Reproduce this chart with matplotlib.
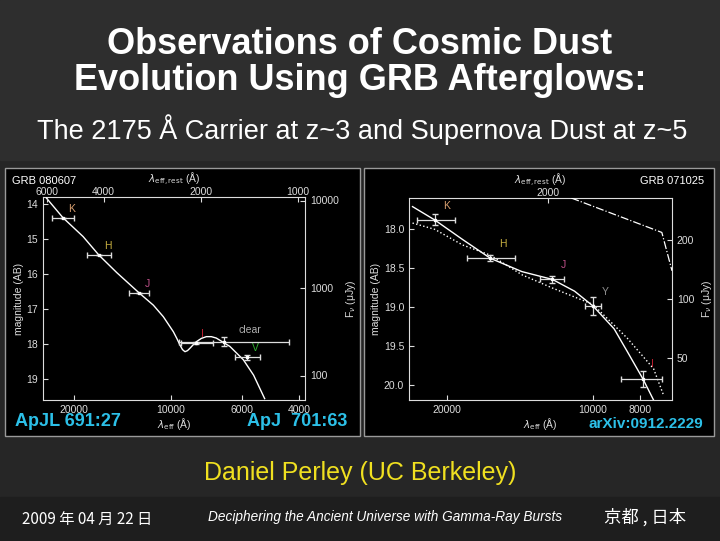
import numpy as np
import matplotlib
matplotlib.use("Agg")
import matplotlib.pyplot as plt
from matplotlib.patches import Rectangle
from matplotlib.ticker import FixedLocator, NullLocator

plt.rcParams["font.family"] = "Liberation Sans"

# --- GRB 080607 (left panel) ---
left_bands = ["K", "H", "J", "I", "clear", "V"]
left_colors = ["#d9a070", "#c8b040", "#c0508a", "#c02030", "#b0b0b0", "#30b030"]
left_lam = [21600, 16700, 12530, 8360, 6840, 5810]
left_lam_lo = [20000, 15300, 11700, 7400, 4300, 5300]
left_lam_hi = [23300, 18200, 13500, 9300, 9400, 6300]
left_mag = [14.40, 15.46, 16.54, 17.98, 17.93, 18.38]
left_magerr = [0.0, 0.0, 0.0, 0.03, 0.12, 0.07]
left_curve_lam = [24300, 21600, 18700, 16700, 14700, 12530, 11320, 10540, 9810, 9560, 9360,
                  9190, 9030, 8870, 8710, 8510, 8310, 8030, 7750, 7480, 7220, 6550, 5950,
                  5530, 5110]
left_curve_mag = [13.83, 14.39, 14.93, 15.46, 15.96, 16.54, 16.89, 17.22, 17.65, 17.85, 18.03,
                  18.16, 18.22, 18.19, 18.12, 18.02, 17.93, 17.84, 17.79, 17.79, 17.83, 18.07,
                  18.45, 18.89, 19.56]

# --- GRB 071025 (right panel) ---
right_bands = ["K", "H", "J", "Y", "I"]
right_colors = ["#d9a070", "#c8b040", "#c0508a", "#909090", "#c02030"]
right_lam = [21240, 16300, 12130, 10000, 7890]
right_lam_lo = [19300, 14500, 11500, 9650, 7200]
right_lam_hi = [23100, 18200, 12900, 10400, 8750]
right_mag = [17.89, 18.38, 18.65, 18.99, 19.92]
right_magerr = [0.07, 0.04, 0.04, 0.12, 0.10]
right_solid_lam = [23600, 21240, 18600, 16300, 14030, 12130, 10920, 10000, 9050, 8500, 7890, 7500]
right_solid_mag = [17.72, 17.89, 18.14, 18.38, 18.55, 18.65, 18.80, 18.99, 19.28, 19.57, 19.92, 20.19]
right_dot_lam = [23600, 21240, 18600, 16300, 14030, 12130, 10000, 8500, 7500, 7160]
right_dot_mag = [17.93, 18.01, 18.21, 18.34, 18.59, 18.76, 18.97, 19.40, 19.79, 20.12]
right_dd_lam = [11090, 7210, 6870]
right_dd_mag = [17.61, 18.05, 18.54]

W, H = 720, 541
fig = plt.figure(figsize=(7.2, 5.41), dpi=100)
fig.patch.set_facecolor("#262626")


def px_axes(x0, y0, x1, y1, **kw):
    return fig.add_axes([x0 / W, 1 - y1 / H, (x1 - x0) / W, (y1 - y0) / H], **kw)


def mag2fnu(m):
    return 10 ** ((23.9 - np.asarray(m, float)) / 2.5)


# slide frame and panel boxes
bg = px_axes(0, 0, W, H)
bg.set_xlim(0, W)
bg.set_ylim(H, 0)
bg.axis("off")
bg.add_patch(Rectangle((0, 0), W, 160, color="#2e2e2e", zorder=0))
bg.add_patch(Rectangle((0, 497), W, 44, color="#1e1e1e", zorder=0))
bg.add_patch(Rectangle((5, 168), 355, 268, facecolor="black", edgecolor="#9a9a9a", lw=1))
bg.add_patch(Rectangle((364, 168), 350, 268, facecolor="black", edgecolor="#9a9a9a", lw=1))

bg.text(360, 45, "Observations of Cosmic Dust", color="white", fontsize=26,
        fontweight="bold", ha="center", va="center")
bg.text(360, 81, "Evolution Using GRB Afterglows:", color="white", fontsize=26,
        fontweight="bold", ha="center", va="center")
bg.text(362, 130, "The 2175 Å Carrier at z~3 and Supernova Dust at z~5", color="white",
        fontsize=19.5, ha="center", va="center")
bg.text(360, 473, "Daniel Perley (UC Berkeley)", color="#f0e020", fontsize=18,
        ha="center", va="center")
bg.text(22, 519, "2009 年 04 月 22 日", color="white", fontsize=11,
        family="Noto Sans CJK JP", ha="left", va="center")
bg.text(385, 517, "Deciphering the Ancient Universe with Gamma-Ray Bursts", color="white",
        fontsize=9.8, style="italic", ha="center", va="center")
bg.text(686, 517, "京都 , 日本", color="white", fontsize=12.5,
        family="Noto Sans CJK JP", ha="right", va="center")
bg.text(15, 422, "ApJL 691:27", color="#2cc0e8", fontsize=13, fontweight="bold",
        ha="left", va="center")
bg.text(347, 422, "ApJ  701:63", color="#2cc0e8", fontsize=13, fontweight="bold",
        ha="right", va="center")
bg.text(703, 424, "arXiv:0912.2229", color="#2cc0e8", fontsize=11, fontweight="bold",
        ha="right", va="center")
bg.text(12, 181, "GRB 080607", color="white", fontsize=8, ha="left", va="center")
bg.text(704, 181, "GRB 071025", color="white", fontsize=8, ha="right", va="center")

TC = "#dddddd"


def style_axes(ax):
    ax.set_facecolor("black")
    for s in ax.spines.values():
        s.set_color(TC)
    ax.tick_params(which="both", colors=TC, labelcolor=TC, labelsize=7.5, direction="in")


def draw_panel(ax, z, lam, lo, hi, mag, merr, bands, colors, xlim, ylim,
               xticks, rest_ticks, fnu_ticks):
    style_axes(ax)
    ax.set_xscale("log")
    ax.set_xlim(*xlim)
    ax.set_ylim(*ylim)
    ax.xaxis.set_major_locator(FixedLocator(xticks))
    ax.xaxis.set_minor_locator(NullLocator())
    ax.set_xticklabels([str(t) for t in xticks])
    ax.tick_params(axis="y", right=False)
    ax.set_ylabel("magnitude (AB)", color=TC, fontsize=7.5, labelpad=2)
    ax.set_xlabel(r"$\lambda_{\rm eff}$ (Å)", color=TC, fontsize=7.5, labelpad=1)
    xerr = [np.array(lam) - np.array(lo), np.array(hi) - np.array(lam)]
    ax.errorbar(lam, mag, xerr=xerr, yerr=merr, fmt="s", ms=2, color="white",
                ecolor=TC, elinewidth=0.9, capsize=2, zorder=4)
    for i, b in enumerate(bands):
        dy = 0.2 if b == "clear" else 0.12
        f = 0.9 if b == "clear" else 0.96
        ax.text(lam[i] * f, mag[i] - dy, b, color=colors[i], fontsize=7.5,
                ha="left", va="bottom")
    # rest-frame wavelength axis on top
    top = ax.twiny()
    top.set_xscale("log")
    top.set_xlim(xlim[0] / (1 + z), xlim[1] / (1 + z))
    top.xaxis.set_major_locator(FixedLocator(rest_ticks))
    top.xaxis.set_minor_locator(NullLocator())
    top.set_xticklabels([str(t) for t in rest_ticks])
    top.tick_params(axis="x", colors=TC, labelsize=7.5, direction="in", pad=0)
    top.tick_params(axis="y", left=False, labelleft=False)
    top.set_xlabel(r"$\lambda_{\rm eff,rest}$ (Å)", color=TC, fontsize=7.5, labelpad=3)
    for s in top.spines.values():
        s.set_visible(False)
    # flux density axis on right
    right = ax.twinx()
    right.set_yscale("log")
    right.set_ylim(mag2fnu(ylim[0]), mag2fnu(ylim[1]))
    right.yaxis.set_major_locator(FixedLocator(fnu_ticks))
    right.yaxis.set_minor_locator(NullLocator())
    right.set_yticklabels([str(t) for t in fnu_ticks])
    right.tick_params(axis="y", colors=TC, labelsize=7.5, direction="in")
    right.tick_params(axis="x", bottom=False, labelbottom=False)
    right.set_ylabel(r"F$_\nu$ (μJy)", color=TC, fontsize=7.5)
    for s in right.spines.values():
        s.set_visible(False)


axL = px_axes(43, 197, 305, 400)
axL.plot(left_curve_lam, left_curve_mag, color="white", lw=1.0, zorder=3)
draw_panel(axL, 3.04, left_lam, left_lam_lo, left_lam_hi, left_mag, left_magerr,
           left_bands, left_colors, (24900, 3830), (19.6, 13.8),
           [20000, 10000, 6000, 4000], [6000, 4000, 2000, 1000], [10000, 1000, 100])

axR = px_axes(409, 198, 672, 400)
axR.plot(right_solid_lam, right_solid_mag, color="white", lw=1.0, zorder=3)
axR.plot(right_dot_lam, right_dot_mag, color="white", lw=1.0, ls=":", zorder=3)
axR.plot(right_dd_lam, right_dd_mag, color="white", lw=0.9, ls="-.", zorder=3)
axR.yaxis.set_major_locator(FixedLocator([18.0, 18.5, 19.0, 19.5, 20.0]))
draw_panel(axR, 5.2, right_lam, right_lam_lo, right_lam_hi, right_mag, right_magerr,
           right_bands, right_colors, (24000, 6870), (20.19, 17.61),
           [20000, 10000, 8000], [4000, 2000], [200, 100, 50])
axR.set_yticklabels(["18.0", "18.5", "19.0", "19.5", "20.0"])
axL.set_yticks([14, 15, 16, 17, 18, 19])

fig.savefig("out.png", dpi=100, facecolor=fig.get_facecolor())
